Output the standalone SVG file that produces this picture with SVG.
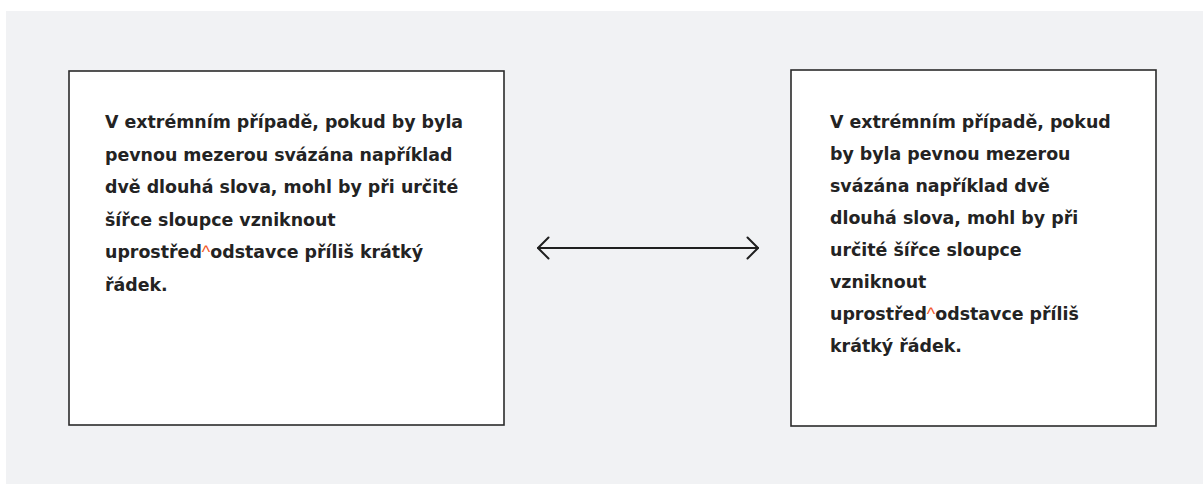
<svg xmlns="http://www.w3.org/2000/svg" width="1203" height="484" viewBox="0 0 1203 484">
  <style>
    .panel { fill: #f1f2f4; }
    .box { fill: #ffffff; stroke: #2b2b2b; stroke-width: 1.6; }
    .txt { font-family: "DejaVu Sans", "Liberation Sans", sans-serif; font-weight: bold; font-size: 17.4px; fill: #232323; }
    .mark { fill: #f2592a; font-family: "Liberation Sans", Arial, sans-serif; font-weight: normal; font-size: 18px; }
    .link { fill: none; stroke: #1f1f1f; stroke-width: 2; stroke-linecap: round; stroke-linejoin: round; }
  </style>
  <defs>
    <marker id="chevron" viewBox="0 0 14 24" refX="12" refY="12" markerWidth="14" markerHeight="24" markerUnits="userSpaceOnUse" orient="auto-start-reverse">
      <path d="M1.5 1.5 L12 12 L1.5 22.5" fill="none" stroke="#1f1f1f" stroke-width="2" stroke-linecap="round" stroke-linejoin="round"/>
    </marker>
  </defs>

  <rect class="panel" x="6" y="11" width="1197" height="473"/>

  <g id="node-wide">
    <rect class="box" x="69" y="71" width="435" height="354"/>
    <text class="txt" x="105">
      <tspan x="105" y="128">V extrémním případě, pokud by byla</tspan>
      <tspan x="105" y="161">pevnou mezerou svázána například</tspan>
      <tspan x="105" y="193">dvě dlouhá slova, mohl by při určité</tspan>
      <tspan x="105" y="226">šířce sloupce vzniknout</tspan>
      <tspan x="105" y="258">uprostřed<tspan class="mark">^</tspan>odstavce příliš krátký</tspan>
      <tspan x="105" y="291">řádek.</tspan>
    </text>
  </g>

  <g id="node-narrow">
    <rect class="box" x="791" y="70" width="365" height="356"/>
    <text class="txt" x="830">
      <tspan x="830" y="128">V extrémním případě, pokud</tspan>
      <tspan x="830" y="160">by byla pevnou mezerou</tspan>
      <tspan x="830" y="192">svázána například dvě</tspan>
      <tspan x="830" y="224">dlouhá slova, mohl by při</tspan>
      <tspan x="830" y="256">určité šířce sloupce</tspan>
      <tspan x="830" y="288">vzniknout</tspan>
      <tspan x="830" y="320">uprostřed<tspan class="mark">^</tspan>odstavce příliš</tspan>
      <tspan x="830" y="352">krátký řádek.</tspan>
    </text>
  </g>

  <g id="connectors">
    <line class="link" x1="538" y1="248" x2="758" y2="248" marker-start="url(#chevron)" marker-end="url(#chevron)"/>
  </g>
</svg>
